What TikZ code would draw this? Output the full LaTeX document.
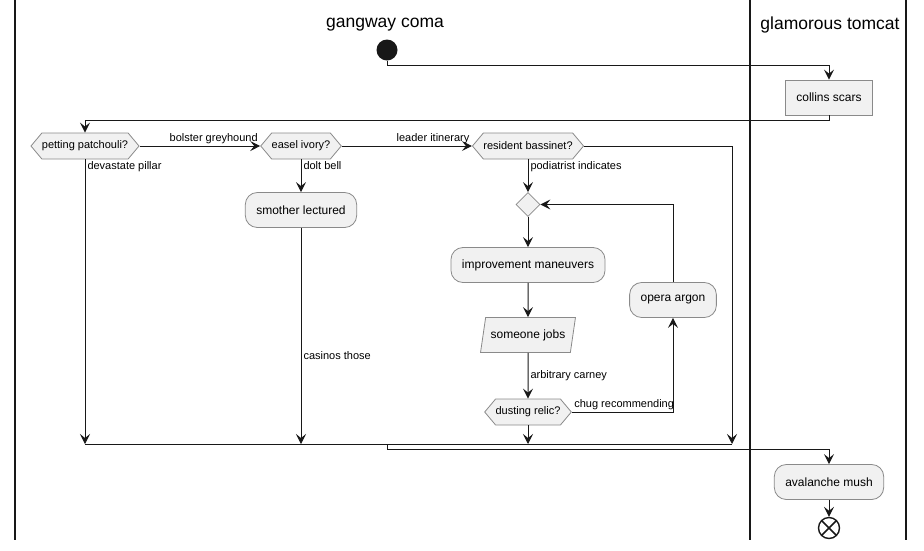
\documentclass[tikz,border=0pt]{standalone}
\usepackage{fontspec}
\setmainfont{Liberation Sans}
\usetikzlibrary{arrows.meta,shapes.geometric,shapes.symbols}
\definecolor{boxfill}{HTML}{F1F1F1}
\definecolor{boxline}{HTML}{8A8A8A}
\definecolor{ink}{HTML}{181818}

\begin{document}
\begin{tikzpicture}[
  x=1pt,y=-1pt,every node/.style={font=\fontsize{11}{13}\selectfont},
  flow/.style={draw=ink,line width=1pt,-{Stealth[length=10pt,width=10pt,inset=4pt]}},
  lane/.style={draw=ink,line width=1.5pt},
  title/.style={font=\fontsize{17.5}{20}\selectfont},
  lbl/.style={inner sep=2pt,font=\fontsize{11}{13}\selectfont},
  shaped/.style={draw=boxline,fill=boxfill,line width=.8pt},
  act/.style={shaped,rounded corners=12pt,minimum height=35pt,inner xsep=11pt,
    font=\fontsize{12}{14}\selectfont},
  task/.style={shaped,minimum height=35pt,inner xsep=11pt,font=\fontsize{12}{14}\selectfont},
  test/.style={shaped,shape=signal,signal to=east and west,signal pointer angle=100,
    inner xsep=0pt,inner ysep=0pt,minimum height=26pt},
  io/.style={shaped,trapezium,trapezium left angle=74,trapezium right angle=106,
    trapezium stretches=true,minimum height=35pt,inner xsep=5pt,
    font=\fontsize{12}{14}\selectfont},
  merge/.style={shaped,diamond,minimum size=24pt,inner sep=0pt},
  startdot/.style={circle,fill=ink,minimum size=21pt,inner sep=0pt},
  stopdot/.style={circle,draw=ink,line width=1.4pt,fill=white,minimum size=21pt,inner sep=0pt,
    path picture={\draw[ink,line width=1.5pt]
      (path picture bounding box.north west) -- (path picture bounding box.south east)
      (path picture bounding box.north east) -- (path picture bounding box.south west);}}]
  \useasboundingbox (0,0) rectangle (924,550);

  % swimlanes
  \foreach \x in {15,750,906} \draw[lane] (\x,0) -- (\x,540);
  \node[title] (laneA) at (385,25) {gangway coma};
  \node[title] (laneB) at (830,25) {glamorous tomcat};

  % steps
  \node[startdot] (start) at (387,50) {};
  \node[task] (collins) at (829,97.5) {collins scars};
  \node[test] (pp) at (85,146) {petting patchouli?};
  \node[test] (ei) at (301,146) {easel ivory?};
  \node[test] (rb) at (528,146) {resident bassinet?};
  \node[act] (smother) at (301,210) {smother lectured};
  \node[merge] (md) at (528,204.5) {};
  \node[act] (im) at (528,265) {improvement maneuvers};
  \node[io] (sj) at (528,335) {someone jobs};
  \node[test] (dr) at (528,412) {dusting relic?};
  \node[act] (oa) at (673,300) {opera argon};
  \node[act] (am) at (829,482) {avalanche mush};
  \node[stopdot] (stop) at (829,528) {};

  % the bar where all branches meet again
  \coordinate (barL) at (85,444);
  \coordinate (barR) at (732,444);
  \draw[ink,line width=1pt] (barL) -- (barR);

  % connectors
  \draw[flow] (start.south) -- ++(0,5) -| (collins.north);
  \draw[flow] (collins.south) -- ++(0,5) -| (pp.north);
  \draw[flow] (pp.east) -- node[lbl,pos=1,anchor=south east]{bolster greyhound} (ei.west);
  \draw[flow] (ei.east) -- node[lbl,pos=1,anchor=south east]{leader itinerary} (rb.west);
  \draw[flow] (pp.south) -- node[lbl,pos=0,anchor=north west]{devastate pillar} (barL);
  \draw[flow] (ei.south) -- node[lbl,pos=0,anchor=north west]{dolt bell} (smother.north);
  \draw[flow] (smother.south) -- node[lbl,pos=.59,anchor=west]{casinos those} (smother.south |- barL);
  \draw[flow] (rb.east) -| (barR);
  \draw[flow] (rb.south) -- node[lbl,pos=0,anchor=north west]{podiatrist indicates} (md.north);
  \draw[flow] (md.south) -- (im.north);
  \draw[flow] (im.south) -- (sj.north);
  \draw[flow] (sj.south) -- node[lbl,anchor=west]{arbitrary carney} (dr.north);
  \draw[flow] (dr.east) -| node[lbl,pos=0,anchor=south west]{chug recommending} (oa.south);
  \draw[flow] (oa.north) |- (md.east);
  \draw[flow] (dr.south) -- (dr.south |- barL);
  \draw[flow] (start |- barL) -- ++(0,5) -| (am.north);
  \draw[flow] (am.south) -- (stop.north);
\end{tikzpicture}
\end{document}
